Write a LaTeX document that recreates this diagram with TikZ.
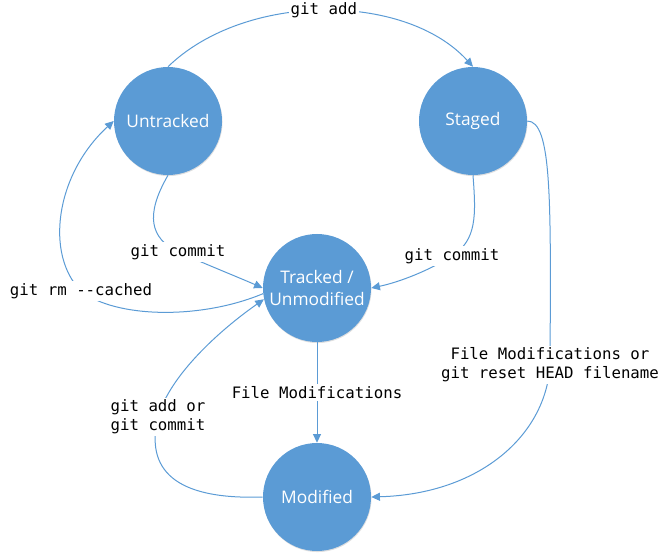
\documentclass[tikz,border=0pt]{standalone}
\usepackage{fontspec}
\setmainfont{Open Sans}
\newfontfamily\monofam{DejaVu Sans Mono}
\usetikzlibrary{arrows.meta,shadows}
\definecolor{nodeblue}{HTML}{5B9BD5}
\definecolor{lineblue}{HTML}{5B9BD5}
\begin{document}
\begin{tikzpicture}[x=0.75pt,y=-0.75pt,
  state/.style={circle,fill=nodeblue,minimum size=81pt,inner sep=0pt,text=white,
    font=\fontsize{13}{16}\selectfont,align=center,
    drop shadow={opacity=0.25,shadow xshift=0.4pt,shadow yshift=-0.8pt}},
  conn/.style={draw=lineblue,line width=0.75pt,-{Triangle[length=6.5pt,width=6pt]}},
  lbl/.style={fill=white,inner sep=1.5pt,text=black,align=center,
    font=\monofam\fontsize{11.8}{14.3}\selectfont}
]
\useasboundingbox (0,0) rectangle (669,560);

\node[state] (U) at (168,121) {Untracked};
\node[state] (S) at (473,121) {Staged};
\node[state] (T) at (317,288) {Tracked /\\Unmodified};
\node[state] (M) at (317,497) {Modified};

% git add
\draw[conn] (U.north) .. controls (245,-8) and (405,-8) .. (S.north)
  node[lbl,pos=0.5] {git add};

% Untracked -> Tracked
\draw[conn] (U.south) .. controls (145,215) and (150,238) .. (178,252)
  node[lbl] {git commit}
  .. controls (210,266) and (240,278) .. (T.180);

% Tracked -> Untracked
\draw[conn] (T.186) .. controls (200,320) and (115,318) .. (81,291)
  node[lbl] {git rm --cached}
  .. controls (45,255) and (55,175) .. (U.west);

% Staged -> Tracked
\draw[conn] (S.south) .. controls (476,215) and (477,240) .. (452,256)
  node[lbl] {git commit}
  .. controls (430,270) and (400,282) .. (T.east);

% Tracked -> Modified
\draw[conn] (T.south) -- (M.north) node[lbl,pos=0.5] {File Modifications};

% Modified -> Tracked
\draw[conn] (M.west) .. controls (175,500) and (145,470) .. (158,417)
  node[lbl,align=left] {git add or\\git commit}
  .. controls (170,375) and (220,330) .. (T.192);

% Staged -> Modified
\draw[conn] (S.east) .. controls (552,121) and (551,200) .. (550,365)
  node[lbl] {File Modifications or\\git reset HEAD filename}
  .. controls (546,435) and (480,494) .. (M.east);
\end{tikzpicture}
\end{document}
